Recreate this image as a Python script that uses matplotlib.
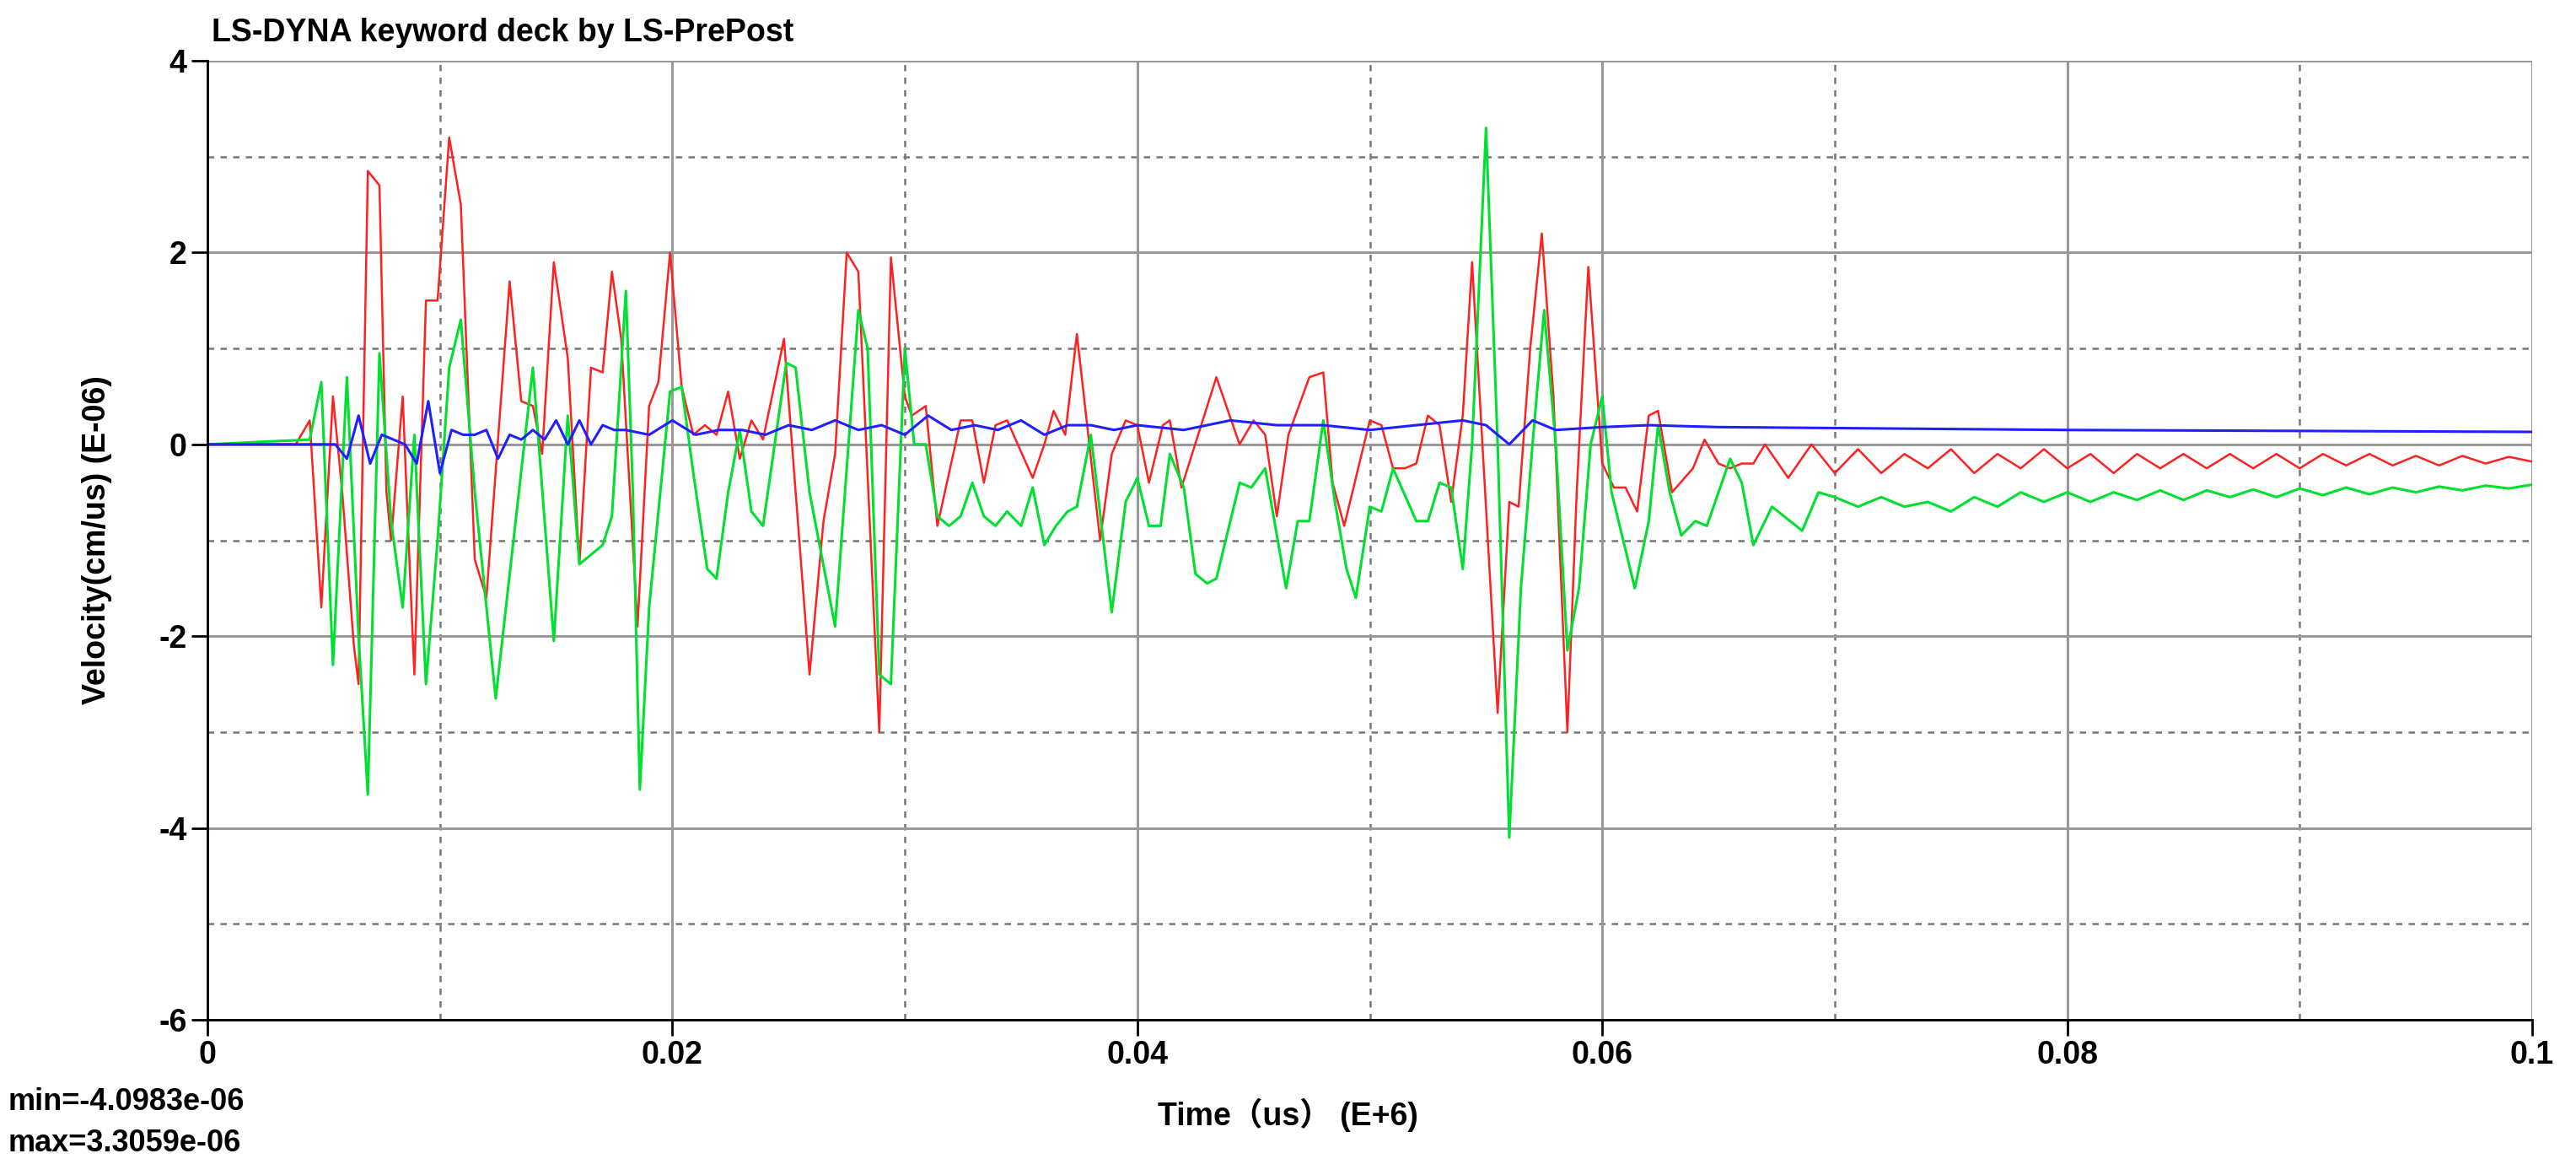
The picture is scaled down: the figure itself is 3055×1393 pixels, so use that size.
import matplotlib
matplotlib.use('Agg')
import matplotlib.pyplot as plt

plt.rcParams['font.family'] = ['Liberation Sans', 'Noto Sans CJK SC', 'DejaVu Sans']
plt.rcParams['axes.unicode_minus'] = False

# red curve (time in us*1e-6, velocity in E-06)
red_t = [0, .0038, .0044, .0049, .0051, .0054, .0058, .0063, .0065, .0069, .0074, .0077, .0079, .0084, .0086,
         .0089, .0094, .0099, .0104, .0109, .0115, .012, .013, .0135, .014, .0144, .0149, .0155, .016, .0165,
         .017, .0174, .0178, .0185, .019, .0194, .0199, .0204, .0209, .0214, .0219, .0224, .0229, .0234, .0239,
         .0248, .0259, .0265, .027, .0275, .028, .0289, .0294, .03, .0303, .0309, .0314, .0324, .0329, .0334,
         .0339, .0344, .0355, .036, .0364, .0369, .0374, .0384, .0389, .0395, .04, .0405, .0411, .0414, .0419,
         .0434, .0444, .045, .0455, .046, .0465, .0474, .048, .0484, .0489, .05, .0505, .051, .0515, .052, .0525,
         .053, .0535, .054, .0544, .0555, .056, .0564, .0569, .0574, .0579, .0585, .0589, .0594, .06, .0605,
         .061, .0615, .062, .0624, .063, .0639, .0644, .065, .0655, .066, .0665, .067,
         .068, .069, .070, .071, .072, .073, .074, .075, .076, .077, .078, .079, .080, .081, .082, .083, .084,
         .085, .086, .087, .088, .089, .090, .091, .092, .093, .094, .095, .096, .097, .098, .099, .1]
red_v = [0, 0, 0.25, -1.7, -0.8, 0.5, -0.5, -2.1, -2.5, 2.85, 2.7, -0.5, -1.0, 0.5, -0.7,
         -2.4, 1.5, 1.5, 3.2, 2.5, -1.2, -1.6, 1.7, 0.45, 0.4, -0.1, 1.9, 0.9, -1.25, 0.8,
         0.75, 1.8, 1.1, -1.9, 0.4, 0.65, 2.0, 0.6, 0.1, 0.2, 0.1, 0.55, -0.15, 0.25, 0.05,
         1.1, -2.4, -0.8, -0.1, 2.0, 1.8, -3.0, 1.95, 0.5, 0.3, 0.4, -0.85, 0.25, 0.25, -0.4,
         0.2, 0.25, -0.35, 0.0, 0.35, 0.1, 1.15, -1.0, -0.1, 0.25, 0.2, -0.4, 0.2, 0.25, -0.45,
         0.7, 0.0, 0.25, 0.1, -0.75, 0.1, 0.7, 0.75, -0.4, -0.85, 0.25, 0.2, -0.25, -0.25, -0.2, 0.3,
         0.2, -0.6, 0.3, 1.9, -2.8, -0.6, -0.65, 1.0, 2.2, 0.5, -3.0, -0.5, 1.85, -0.2, -0.45,
         -0.45, -0.7, 0.3, 0.35, -0.5, -0.25, 0.05, -0.2, -0.25, -0.2, -0.2, 0.0,
         -0.35, 0.0, -0.3, -0.05, -0.3, -0.1, -0.25, -0.05, -0.3, -0.1, -0.25, -0.05, -0.25, -0.1, -0.3, -0.1, -0.25,
         -0.1, -0.25, -0.1, -0.25, -0.1, -0.25, -0.1, -0.22, -0.1, -0.22, -0.12, -0.22, -0.12, -0.2, -0.13, -0.18]

green_t = [0, .0044, .0049, .0054, .006, .0065, .0069, .0074, .0079, .0084, .0089, .0094, .0099, .0104, .0109,
           .0115, .0124, .014, .0149, .0155, .016, .017, .0174, .018, .0183, .0186, .019, .0199, .0204, .0209,
           .0215, .0219, .0224, .0229, .0234, .0239, .0249, .0253, .0259, .027, .028, .0284, .0289, .0294, .03,
           .0304, .0309, .0314, .0319, .0324, .0329, .0334, .0339, .0344, .035, .0355, .036, .0365, .037, .0374,
           .038, .0389, .0395, .04, .0405, .041, .0414, .042, .0425, .043, .0434, .0444, .0449, .0455, .0464,
           .0469, .0474, .048, .0485, .049, .0494, .05, .0505, .051, .052, .0525, .053, .0535, .054, .0544,
           .055, .0555, .056, .0565, .057, .0575, .058, .0585, .059, .0595, .06, .0604, .0614, .062, .0624,
           .0629, .0634, .064, .0645, .0655, .066, .0665, .0673, .0686, .0693, .070, .071, .072, .073, .074,
           .075, .076, .077, .078, .079, .080, .081, .082, .083, .084, .085, .086, .087, .088, .089, .090, .091,
           .092, .093, .094, .095, .096, .097, .098, .099, .1]
green_v = [0, 0.05, 0.65, -2.3, 0.7, -2.0, -3.65, 0.95, -0.8, -1.7, 0.1, -2.5, -1.0, 0.8, 1.3,
           -0.5, -2.65, 0.8, -2.05, 0.3, -1.25, -1.05, -0.75, 1.6, -0.5, -3.6, -1.7, 0.55, 0.6, -0.3,
           -1.3, -1.4, -0.5, 0.15, -0.7, -0.85, 0.85, 0.8, -0.5, -1.9, 1.4, 1.0, -2.4, -2.5, 1.0,
           0.0, 0.0, -0.75, -0.85, -0.75, -0.4, -0.75, -0.85, -0.7, -0.85, -0.45, -1.05, -0.85, -0.7, -0.65,
           0.1, -1.75, -0.6, -0.35, -0.85, -0.85, -0.1, -0.45, -1.35, -1.45, -1.4, -0.4, -0.45, -0.25, -1.5,
           -0.8, -0.8, 0.25, -0.6, -1.3, -1.6, -0.65, -0.7, -0.25, -0.8, -0.8, -0.4, -0.45, -1.3, 0.0,
           3.3, 0.0, -4.1, -1.5, 0.0, 1.4, 0.0, -2.15, -1.5, 0.0, 0.5, -0.5, -1.5, -0.8, 0.2,
           -0.5, -0.95, -0.8, -0.85, -0.15, -0.4, -1.05, -0.65, -0.9, -0.5, -0.55, -0.65, -0.55, -0.65, -0.6,
           -0.7, -0.55, -0.65, -0.5, -0.6, -0.5, -0.6, -0.5, -0.58, -0.48, -0.58, -0.48, -0.55, -0.47, -0.55, -0.46, -0.53,
           -0.45, -0.52, -0.45, -0.5, -0.44, -0.48, -0.43, -0.46, -0.42]

blue_t = [0, .005, .0055, .006, .0065, .007, .0075, .008, .0085, .009, .0095, .01, .0105, .011, .0115, .012,
          .0125, .013, .0135, .014, .0145, .015, .0155, .016, .0165, .017, .0175, .018, .019, .020, .021, .022,
          .023, .024, .025, .026, .027, .028, .029, .030, .031, .032, .033, .034, .035, .036, .037, .038, .039,
          .040, .042, .044, .046, .048, .050, .052, .054, .055, .056, .057, .058, .060, .062, .065, .070, .080,
          .090, .1]
blue_v = [0, 0, 0.0, -0.15, 0.3, -0.2, 0.1, 0.05, 0.0, -0.2, 0.45, -0.3, 0.15, 0.1, 0.1, 0.15,
          -0.15, 0.1, 0.05, 0.15, 0.05, 0.25, 0.0, 0.25, 0.0, 0.2, 0.15, 0.15, 0.1, 0.25, 0.1, 0.15,
          0.15, 0.1, 0.2, 0.15, 0.25, 0.15, 0.2, 0.1, 0.3, 0.15, 0.2, 0.15, 0.25, 0.1, 0.2, 0.2, 0.15,
          0.2, 0.15, 0.25, 0.2, 0.2, 0.15, 0.2, 0.25, 0.2, 0.0, 0.25, 0.15, 0.18, 0.2, 0.18, 0.17, 0.15,
          0.14, 0.13]

fig = plt.figure(figsize=(30.55, 13.93), dpi=100)
ax = fig.add_axes([246 / 3055, 1 - 1209 / 1393, (3003 - 246) / 3055, (1209 - 72) / 1393])

ax.plot(red_t, red_v, color='#ff2020', lw=1.8)
ax.plot(green_t, green_v, color='#00e030', lw=2.2)
ax.plot(blue_t, blue_v, color='#2020ff', lw=2.2)

ax.set_xlim(0, 0.1)
ax.set_ylim(-6, 4)
ax.set_xticks([0, 0.02, 0.04, 0.06, 0.08, 0.1])
ax.set_xticklabels(['0', '0.02', '0.04', '0.06', '0.08', '0.1'])
ax.set_yticks([-6, -4, -2, 0, 2, 4])
ax.set_yticklabels(['-6', '-4', '-2', '0', '2', '4'])
for x in [0.01, 0.03, 0.05, 0.07, 0.09]:
    ax.axvline(x, color='#777777', ls=(0, (3, 3)), lw=1.8, zorder=0)
for y in [-5, -3, -1, 1, 3]:
    ax.axhline(y, color='#777777', ls=(0, (3, 3)), lw=1.8, zorder=0)
ax.grid(True, color='#999999', lw=2.2, zorder=0)
ax.set_axisbelow(True)
for s in ['top', 'right']:
    ax.spines[s].set_visible(False)
ax.spines['left'].set_linewidth(2)
ax.spines['bottom'].set_linewidth(2)
ax.tick_params(labelsize=27, width=2, length=14, direction='out')
for lab in ax.get_xticklabels() + ax.get_yticklabels():
    lab.set_fontweight('bold')

ax.set_ylabel('Velocity(cm/us) (E-06)', fontsize=27, fontweight='bold', labelpad=40)
fig.text(0.5, 0.042, 'Time（us） (E+6)', fontsize=27, fontweight='bold', ha='center')
fig.text(0.082, 0.972, 'LS-DYNA keyword deck by LS-PrePost', fontsize=27, fontweight='bold', va='center')
fig.text(0.003, 0.055, 'min=-4.0983e-06', fontsize=26, fontweight='bold')
fig.text(0.003, 0.02, 'max=3.3059e-06', fontsize=26, fontweight='bold')

fig.savefig('out.png', dpi=100)
